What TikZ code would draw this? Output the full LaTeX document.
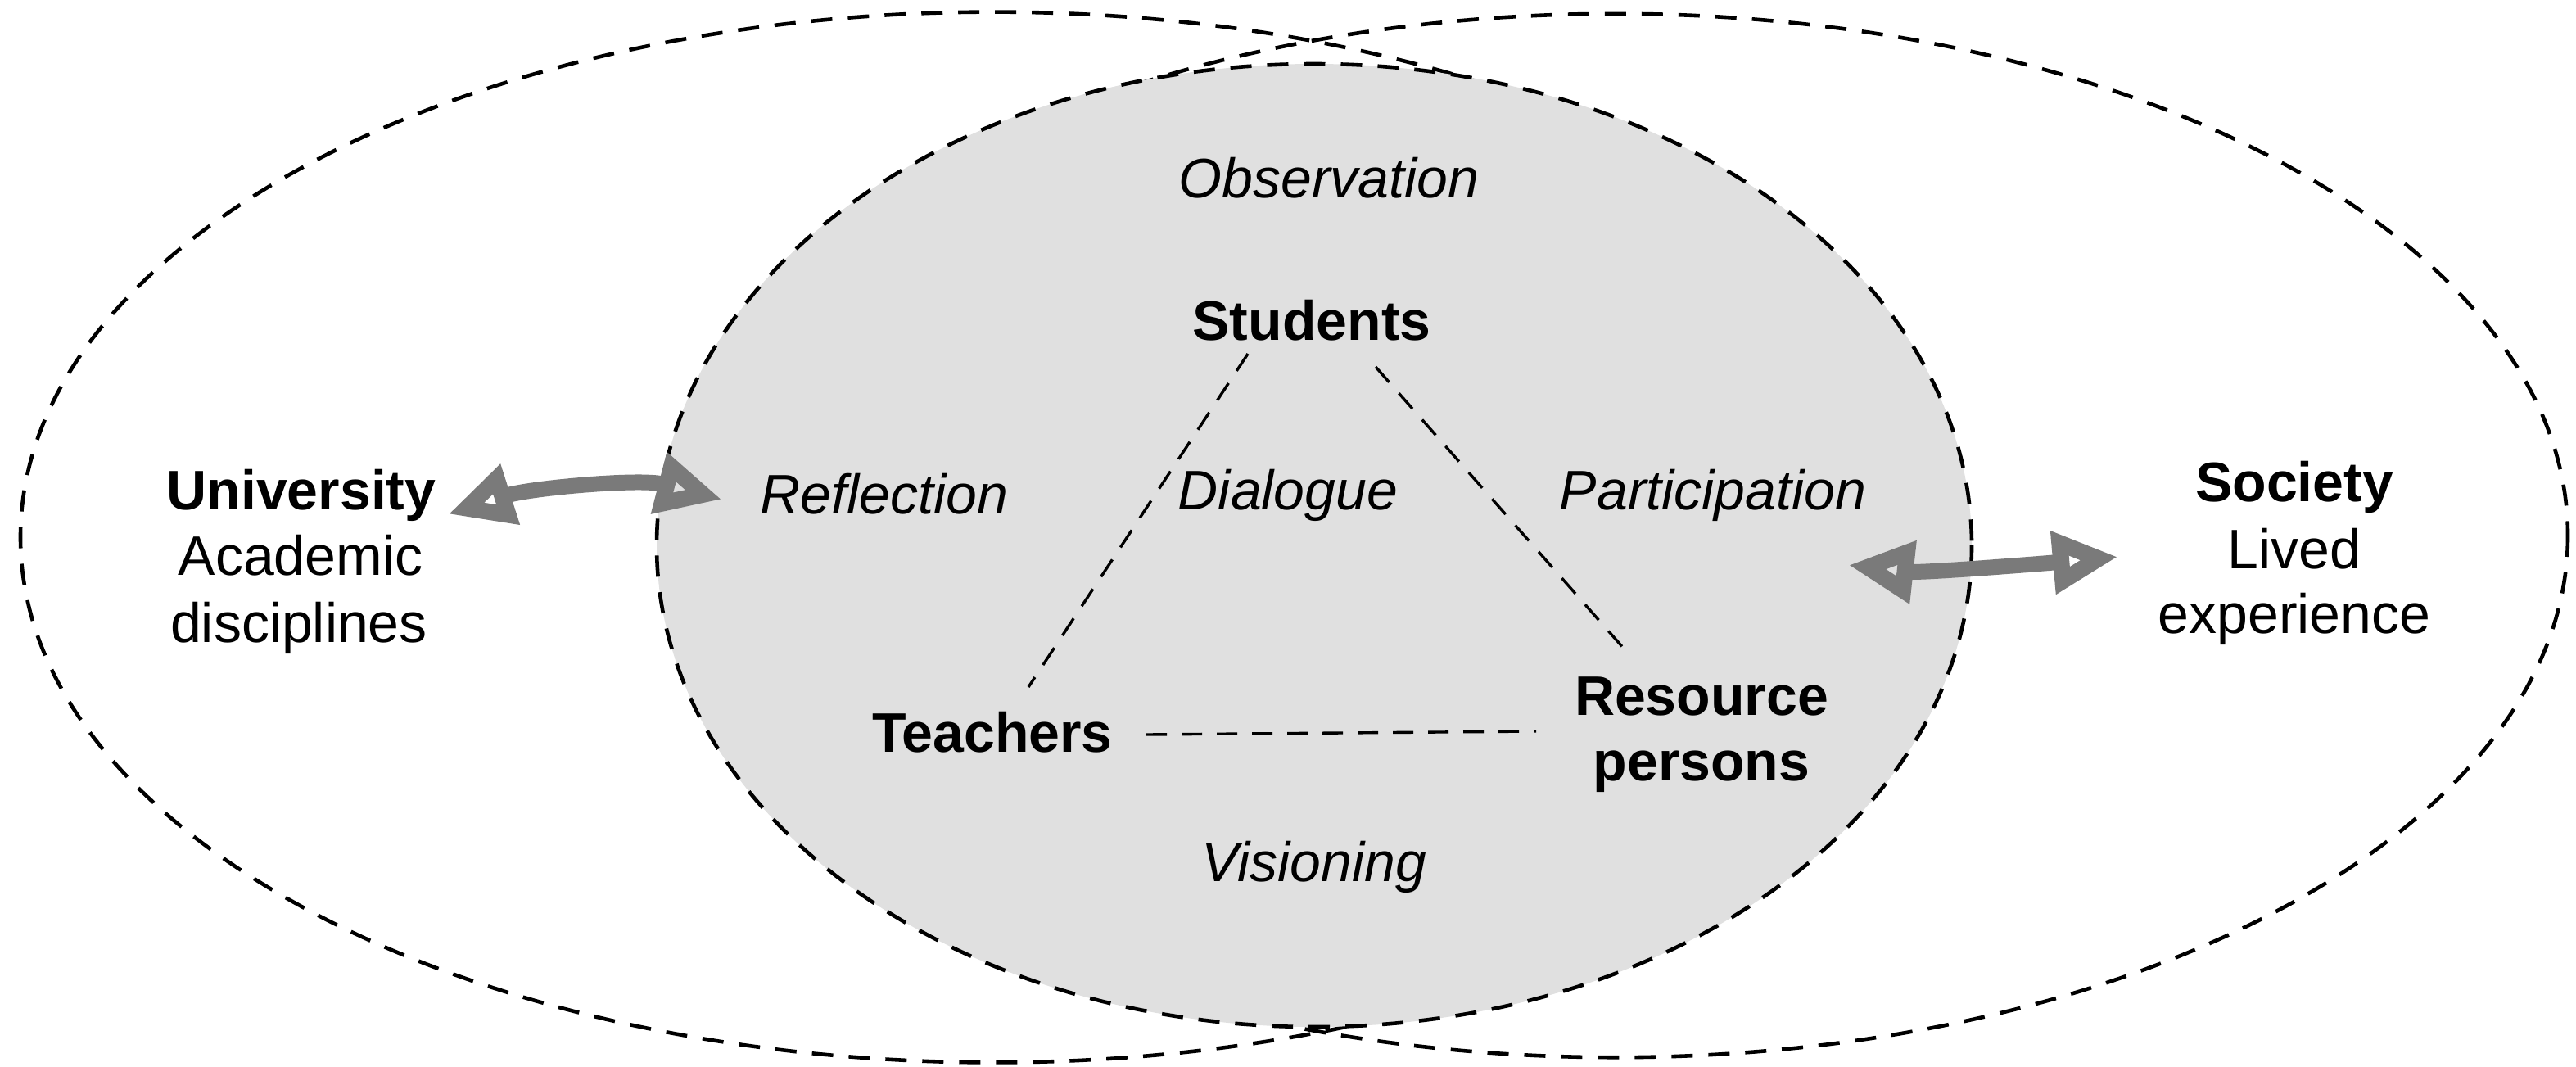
\documentclass[tikz,border=0pt]{standalone}
\usepackage{fontspec}
\setmainfont{Liberation Sans}
\usetikzlibrary{arrows.meta,calc}
\definecolor{fillgray}{RGB}{224,224,224}
\definecolor{arrowgray}{RGB}{122,122,122}

\begin{document}
\begin{tikzpicture}[x=1pt,y=1pt,yscale=-1,xscale=1,
  lbl/.style={anchor=base,inner sep=0pt,font=\fontsize{34}{40}\selectfont},
  bold/.style={lbl,font=\fontsize{34}{40}\selectfont\bfseries},
  idea/.style={lbl,font=\fontsize{34}{40}\selectfont\itshape},
  outer/.style={draw=black,line width=2.3pt,dash pattern=on 13pt off 9.5pt},
  tri/.style={draw=black,line width=1.7pt,dash pattern=on 12.5pt off 9pt},
  biarrow/.style={draw=arrowgray,line width=9.5pt,
    {Triangle[open,length=40pt,width=36pt,line width=10pt]}-{Triangle[open,length=40pt,width=36pt,line width=10pt]}}]
%set diagram left start at 0, and has height of 651
\useasboundingbox (0,0) rectangle (1573,651);

% Ellipses
\draw[outer] (606.5,328) ellipse [x radius=594, y radius=320.7];
\draw[outer] (986.5,327) ellipse [x radius=581.5, y radius=318.6];
\draw[outer,fill=fillgray] (802.5,333) ellipse [x radius=401.5, y radius=294];

% Text Node
\draw (811.5,120.5) node (obs) [idea] {Observation};
% Text Node
\draw (801,207.5) node (stud) [bold] {Students};
% Text Node
\draw (184,311) node (univ) [bold] {University};
% Text Node
\draw (183.5,351) node (acad) [lbl] {Academic};
% Text Node
\draw (182.5,392) node (disc) [lbl] {disciplines};
% Text Node
\draw (540,313.5) node (refl) [idea] {Reflection};
% Text Node
\draw (786.5,311) node (dial) [idea] {Dialogue};
% Text Node
\draw (1046,311) node (part) [idea] {Participation};
% Text Node
\draw (1401,306) node (soc) [bold] {Society};
% Text Node
\draw (1401,347) node (lived) [lbl] {Lived};
% Text Node
\draw (1401,386.5) node (exper) [lbl] {experience};
% Text Node
\draw (606,459) node (teach) [bold] {Teachers};
% Text Node
\draw (1039,436.5) node (res) [bold] {Resource};
% Text Node
\draw (1039,476.5) node (pers) [bold] {persons};
% Text Node
\draw (802.5,538) node (vis) [idea] {Visioning};

% Triangle
\draw[tri] ($(stud.base)+(-39,8.5)$) -- ($(teach.base)+(22,-39.5)$);
\draw[tri] ($(stud.base)+(39,16.5)$) -- ($(res.base)+(-43,-35.5)$);
\draw[tri] ($(teach.base)+(94,-10.5)$) -- ($(res.base)+(-101,10)$);

% Arrows
\coordinate (uniA) at (273.5,314);
\coordinate (uniB) at (441,305);
\coordinate (socA) at (1128.5,345);
\coordinate (socB) at (1293.5,340);
\draw[biarrow] (uniA) .. controls +(50,-16) and +(-50,-13) .. (uniB);
\draw[biarrow] (socA) .. controls +(45,5) and +(-45,4) .. (socB);

\end{tikzpicture}
\end{document}
